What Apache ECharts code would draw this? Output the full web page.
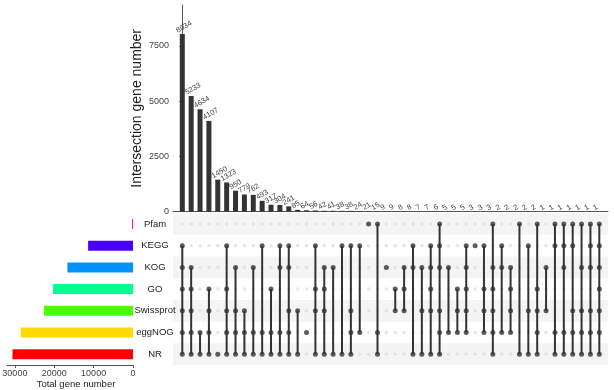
<!DOCTYPE html>
<html>
<head>
<meta charset="utf-8">
<script src="https://cdn.jsdelivr.net/npm/echarts@6/dist/echarts.min.js"></script>
<style>
  html, body { margin: 0; padding: 0; background: #fff; }
  #upset { width: 614px; height: 390px; }
</style>
</head>
<body>
<div id="upset"></div>
<script>
// sets, top to bottom in the matrix
const setNames = ['Pfam', 'KEGG', 'KOG', 'GO', 'Swissprot', 'eggNOG', 'NR']
const setTotals = [250, 11400, 16650, 20300, 22600, 28500, 30600]
const setColors = ['#FF00DB', '#4900FF', '#0092FF', '#00FF92', '#49FF00', '#FFDB00', '#FF0000']

// intersections, left to right
const interSizes = [
  8034, 5233, 4634, 4107, 1450, 1323, 950, 779, 762, 493, 317, 304,
  241, 85, 64, 56, 42, 41, 38, 38, 24, 21, 15, 9,
  9, 8, 8, 7, 7, 6, 5, 5, 5, 3, 3, 3,
  2, 2, 2, 2, 2, 1, 1, 1, 1, 1, 1, 1
]
const interSets = [
  'KEGG KOG GO Swissprot eggNOG NR',
  'KOG GO Swissprot eggNOG NR',
  'eggNOG NR',
  'GO Swissprot eggNOG NR',
  'NR',
  'KEGG GO Swissprot eggNOG NR',
  'KOG Swissprot eggNOG NR',
  'Swissprot eggNOG NR',
  'KOG eggNOG NR',
  'KEGG eggNOG NR',
  'GO eggNOG NR',
  'KEGG KOG eggNOG NR',
  'KEGG KOG Swissprot eggNOG NR',
  'Swissprot NR',
  'eggNOG',
  'KEGG GO Swissprot NR',
  'KOG GO Swissprot NR',
  'KOG NR',
  'KEGG NR',
  'KEGG Swissprot eggNOG NR',
  'KEGG eggNOG',
  'Pfam',
  'Pfam eggNOG NR',
  'KOG',
  'GO Swissprot',
  'KOG GO Swissprot',
  'KEGG KOG NR',
  'KOG Swissprot NR',
  'KEGG KOG GO Swissprot NR',
  'Pfam KEGG KOG Swissprot eggNOG NR',
  'KOG eggNOG',
  'GO Swissprot eggNOG',
  'KEGG KOG GO Swissprot eggNOG',
  'KEGG',
  'KEGG GO Swissprot eggNOG',
  'Pfam KOG GO Swissprot eggNOG NR',
  'KEGG KOG eggNOG',
  'KOG GO Swissprot eggNOG',
  'Pfam NR',
  'KEGG Swissprot NR',
  'Pfam GO Swissprot eggNOG NR',
  'KOG Swissprot',
  'Pfam KEGG eggNOG NR',
  'Pfam KEGG KOG eggNOG NR',
  'Pfam KEGG Swissprot eggNOG NR',
  'Pfam KOG Swissprot eggNOG NR',
  'Pfam KEGG KOG Swissprot eggNOG NR',
  'Pfam KEGG KOG GO Swissprot eggNOG NR'
]

const countTicks = [0, 2500, 5000, 7500]
const totalTicks = [0, 10000, 20000, 30000]

const font = 'Liberation Sans, Arial, sans-serif'

function init() {
  const chart = echarts.init(document.getElementById('upset'))

  const lightDots = []
  const darkDots = []
  const links = []
  interSets.forEach((str, i) => {
    const rows = str.split(' ').map(n => setNames.indexOf(n))
    setNames.forEach((n, r) => {
      if (rows.indexOf(r) >= 0) darkDots.push([i, r])
      else lightDots.push([i, r])
    })
    if (rows.length > 1) links.push([i, Math.min(...rows), Math.max(...rows)])
  })
  const stripes = setNames.map((n, r) => [0, r]).filter(d => d[1] % 2 === 0)

  const colMin = -1.048
  const colMax = 47.98
  const plain = v => String(v)

  const option = {
    animation: false,
    textStyle: { fontFamily: font },
    grid: [
      { left: 173, right: 6, top: 5, bottom: 178.3, outerBoundsMode: 'none' },
      { left: 173, right: 6, top: 213.15, bottom: 24.95, outerBoundsMode: 'none' },
      { left: 7, right: 481, top: 213.15, bottom: 24.95, outerBoundsMode: 'none' }
    ],
    xAxis: [
      {
        gridIndex: 0, type: 'value', min: colMin, max: colMax,
        axisLine: { show: true, lineStyle: { color: '#555', width: 1 } },
        axisTick: { show: false }, axisLabel: { show: false }, splitLine: { show: false }
      },
      {
        gridIndex: 1, type: 'value', min: colMin, max: colMax, show: false
      },
      {
        gridIndex: 2, type: 'value', inverse: true, min: 0, max: 32000,
        name: 'Total gene number', nameLocation: 'middle', nameGap: 14,
        nameTextStyle: { color: '#222', fontSize: 9.5, fontFamily: font, padding: [0, 0, 0, 12] },
        axisLine: { show: true, lineStyle: { color: '#555', width: 1 } },
        axisTick: { show: true, length: 3, customValues: totalTicks, lineStyle: { color: '#555' } },
        axisLabel: { customValues: totalTicks, formatter: plain, color: '#444', fontSize: 9, margin: 4, fontFamily: font },
        splitLine: { show: false }
      }
    ],
    yAxis: [
      {
        gridIndex: 0, type: 'value', min: 0, max: 9350,
        name: 'Intersection gene number', nameLocation: 'middle', nameGap: 29,
        nameMoveOverlap: false,
        nameTextStyle: { color: '#222', fontSize: 14, fontFamily: font },
        axisLine: { show: true, lineStyle: { color: '#555', width: 1 } },
        axisTick: { show: true, length: 3, customValues: countTicks, lineStyle: { color: '#555' } },
        axisLabel: { customValues: countTicks, formatter: plain, color: '#444', fontSize: 9, margin: 4, fontFamily: font },
        splitLine: { show: false }
      },
      {
        gridIndex: 1, type: 'category', data: setNames, inverse: true,
        axisLine: { show: false }, axisTick: { show: false },
        axisLabel: { align: 'center', margin: 18, color: '#222', fontSize: 9.5, fontFamily: font }
      },
      {
        gridIndex: 2, type: 'category', data: setNames, inverse: true, show: false
      }
    ],
    series: [
      {
        type: 'bar', xAxisIndex: 0, yAxisIndex: 0, barWidth: 5,
        data: interSizes.map((v, i) => [i, v]),
        itemStyle: { color: '#333' },
        label: {
          show: true, position: [-3, -3], rotate: 30,
          align: 'left', verticalAlign: 'middle',
          fontSize: 7.5, color: '#444', fontFamily: font,
          formatter: p => p.value[1]
        }
      },
      {
        type: 'custom', xAxisIndex: 1, yAxisIndex: 1, z: 0, silent: true,
        data: stripes,
        encode: { x: 0, y: 1 },
        renderItem(params, api) {
          const c = api.coord([0, api.value(1)])
          const h = api.size([0, 1])[1]
          const cs = params.coordSys
          return {
            type: 'rect',
            shape: { x: cs.x, y: c[1] - h / 2, width: cs.width, height: h },
            style: { fill: '#f4f4f4' }
          }
        }
      },
      {
        type: 'scatter', xAxisIndex: 1, yAxisIndex: 1, z: 2, silent: true,
        data: lightDots, symbolSize: 3.5,
        itemStyle: { color: '#e0e0e0' }
      },
      {
        type: 'custom', xAxisIndex: 1, yAxisIndex: 1, z: 3, silent: true,
        data: links,
        encode: { x: 0, y: [1, 2] },
        renderItem(params, api) {
          const a = api.coord([api.value(0), api.value(1)])
          const b = api.coord([api.value(0), api.value(2)])
          return {
            type: 'line',
            shape: { x1: a[0], y1: a[1], x2: b[0], y2: b[1] },
            style: { stroke: '#333', lineWidth: 2 }
          }
        }
      },
      {
        type: 'scatter', xAxisIndex: 1, yAxisIndex: 1, z: 4, silent: true,
        data: darkDots, symbolSize: 5,
        itemStyle: { color: '#333' }
      },
      {
        type: 'bar', xAxisIndex: 2, yAxisIndex: 2, barWidth: 10,
        data: setTotals.map((v, i) => ({ value: v, itemStyle: { color: setColors[i] } }))
      }
    ]
  }

  chart.setOption(option)
}

init()
</script>
</body>
</html>
